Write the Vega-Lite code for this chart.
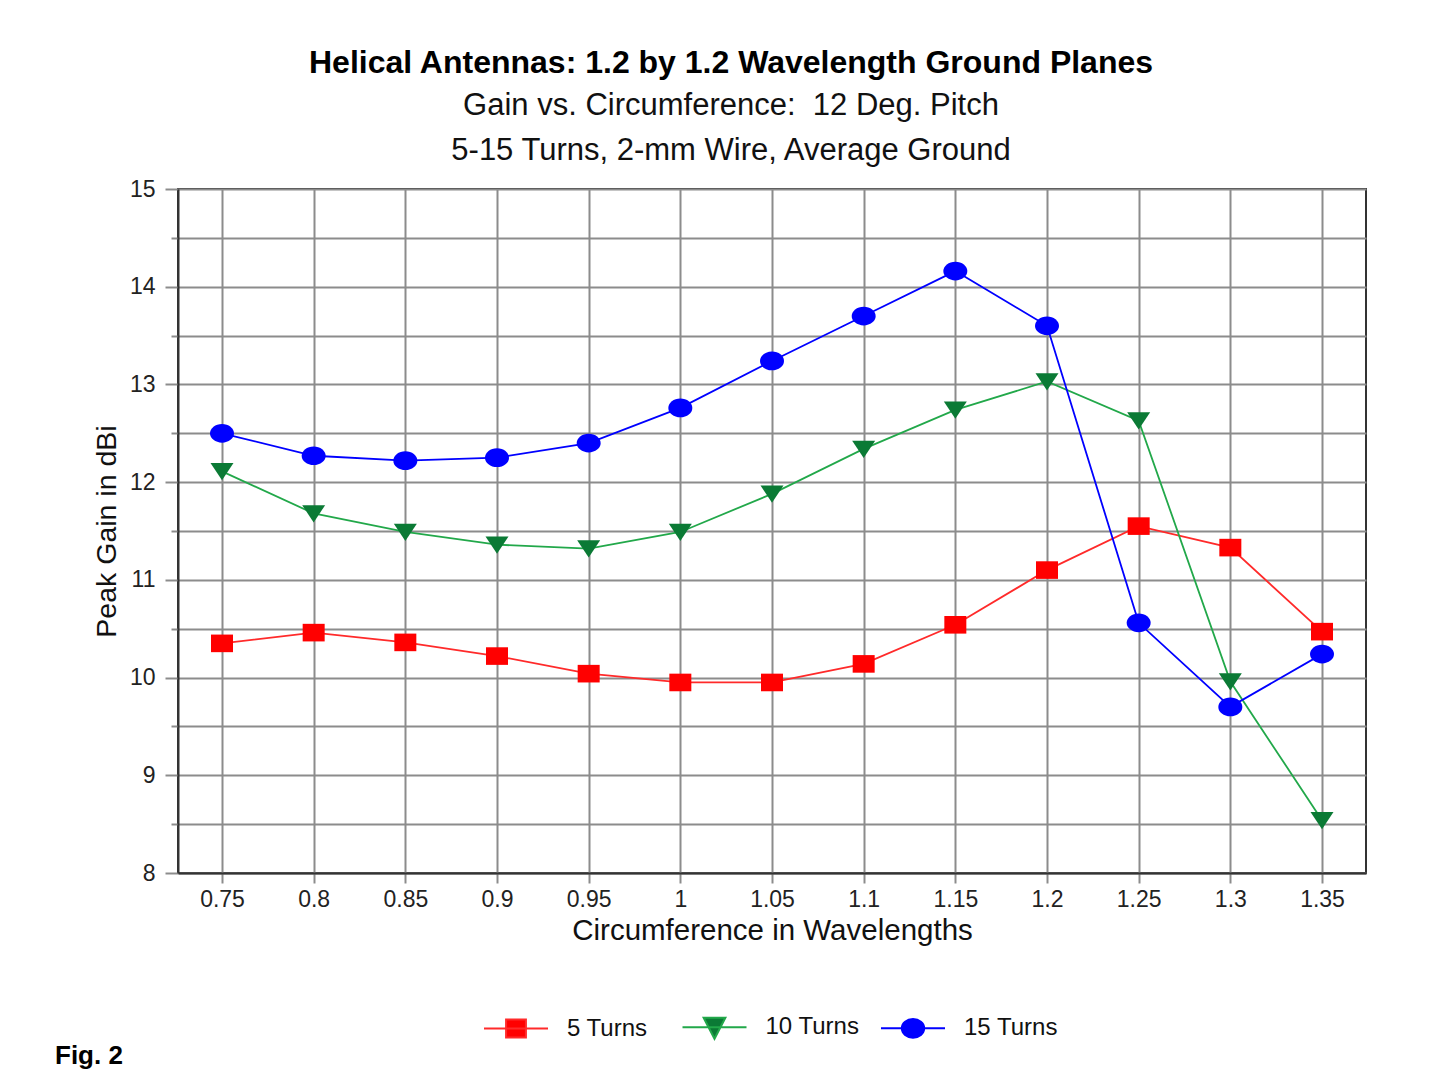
{
  "$schema": "https://vega.github.io/schema/vega-lite/v6.json",
  "width": 1188,
  "height": 684,
  "autosize": {"type": "none"},
  "padding": {"left": 178, "top": 189, "right": 64, "bottom": 214},
  "background": "white",
  "title": {
    "text": "Helical Antennas: 1.2 by 1.2 Wavelength Ground Planes",
    "subtitle": ["Gain vs. Circumference:\u00a0\u00a012 Deg. Pitch", "5-15 Turns, 2-mm Wire, Average Ground"],
    "anchor": "middle",
    "frame": "group",
    "dx": -41,
    "font": "Liberation Sans",
    "fontSize": 32,
    "fontWeight": "bold",
    "color": "#000000",
    "subtitleFont": "Liberation Sans",
    "subtitleFontSize": 31,
    "subtitleColor": "#111111",
    "subtitleLineHeight": 45,
    "subtitlePadding": 11,
    "offset": 11
  },
  "data": {
    "values": [
      {"c": 0.75, "gain": 10.35, "series": "5 Turns"},
      {"c": 0.8, "gain": 10.46, "series": "5 Turns"},
      {"c": 0.85, "gain": 10.36, "series": "5 Turns"},
      {"c": 0.9, "gain": 10.22, "series": "5 Turns"},
      {"c": 0.95, "gain": 10.04, "series": "5 Turns"},
      {"c": 1.0, "gain": 9.95, "series": "5 Turns"},
      {"c": 1.05, "gain": 9.95, "series": "5 Turns"},
      {"c": 1.1, "gain": 10.14, "series": "5 Turns"},
      {"c": 1.15, "gain": 10.54, "series": "5 Turns"},
      {"c": 1.2, "gain": 11.10, "series": "5 Turns"},
      {"c": 1.25, "gain": 11.55, "series": "5 Turns"},
      {"c": 1.3, "gain": 11.33, "series": "5 Turns"},
      {"c": 1.35, "gain": 10.47, "series": "5 Turns"},
      {"c": 0.75, "gain": 12.11, "series": "10 Turns"},
      {"c": 0.8, "gain": 11.68, "series": "10 Turns"},
      {"c": 0.85, "gain": 11.49, "series": "10 Turns"},
      {"c": 0.9, "gain": 11.36, "series": "10 Turns"},
      {"c": 0.95, "gain": 11.32, "series": "10 Turns"},
      {"c": 1.0, "gain": 11.49, "series": "10 Turns"},
      {"c": 1.05, "gain": 11.88, "series": "10 Turns"},
      {"c": 1.1, "gain": 12.34, "series": "10 Turns"},
      {"c": 1.15, "gain": 12.74, "series": "10 Turns"},
      {"c": 1.2, "gain": 13.03, "series": "10 Turns"},
      {"c": 1.25, "gain": 12.63, "series": "10 Turns"},
      {"c": 1.3, "gain": 9.96, "series": "10 Turns"},
      {"c": 1.35, "gain": 8.54, "series": "10 Turns"},
      {"c": 0.75, "gain": 12.50, "series": "15 Turns"},
      {"c": 0.8, "gain": 12.27, "series": "15 Turns"},
      {"c": 0.85, "gain": 12.22, "series": "15 Turns"},
      {"c": 0.9, "gain": 12.25, "series": "15 Turns"},
      {"c": 0.95, "gain": 12.40, "series": "15 Turns"},
      {"c": 1.0, "gain": 12.76, "series": "15 Turns"},
      {"c": 1.05, "gain": 13.24, "series": "15 Turns"},
      {"c": 1.1, "gain": 13.70, "series": "15 Turns"},
      {"c": 1.15, "gain": 14.16, "series": "15 Turns"},
      {"c": 1.2, "gain": 13.60, "series": "15 Turns"},
      {"c": 1.25, "gain": 10.56, "series": "15 Turns"},
      {"c": 1.3, "gain": 9.70, "series": "15 Turns"},
      {"c": 1.35, "gain": 10.24, "series": "15 Turns"}
    ]
  },
  "encoding": {
    "x": {
      "field": "c",
      "type": "quantitative",
      "scale": {"domain": [0.726, 1.374], "nice": false, "zero": false},
      "axis": {
        "values": [0.75, 0.8, 0.85, 0.9, 0.95, 1, 1.05, 1.1, 1.15, 1.2, 1.25, 1.3, 1.35],
        "format": "~g",
        "title": "Circumference in Wavelengths",
        "titleFontSize": 29.5,
        "grid": true,
        "tickSize": 10,
        "labelPadding": 5,
        "titlePadding": 5
      }
    },
    "y": {
      "field": "gain",
      "type": "quantitative",
      "scale": {"domain": [8, 15], "nice": false, "zero": false},
      "axis": {
        "values": [8, 8.5, 9, 9.5, 10, 10.5, 11, 11.5, 12, 12.5, 13, 13.5, 14, 14.5, 15],
        "labelExpr": "datum.value % 1 === 0 ? format(datum.value, 'd') : ''",
        "tickSize": {"condition": {"test": "datum.value % 1 === 0", "value": 13}, "value": 7},
        "labelPadding": 10,
        "title": "Peak Gain in dBi",
        "titleFontSize": 28.5,
        "titlePadding": 8,
        "grid": true
      }
    }
  },
  "layer": [
    {
      "transform": [{"filter": "false"}],
      "mark": {"type": "point", "filled": true, "strokeWidth": 2},
      "encoding": {
        "shape": {
          "field": "series",
          "type": "nominal",
          "scale": {
            "domain": ["5 Turns", "10 Turns", "15 Turns"],
            "range": [
              "M-1,0H1M-0.31,-0.28H0.31V0.28H-0.31Z",
              "M-1,0H1M-0.34,-0.3H0.34L0,0.36Z",
              "M-1,0H1M-0.35,0A0.35,0.29 0 1,0 0.35,0A0.35,0.29 0 1,0 -0.35,0Z"
            ]
          },
          "legend": {"title": "Fig. 2", "orient": "none", "legendX": -123, "legendY": 805, "direction": "horizontal"}
        },
        "fill": {
          "field": "series",
          "type": "nominal",
          "scale": {"domain": ["5 Turns", "10 Turns", "15 Turns"], "range": ["#ff0000", "#0b7a35", "#0000ff"]},
          "legend": {"title": "Fig. 2", "orient": "none", "legendX": -123, "legendY": 805, "direction": "horizontal"}
        },
        "stroke": {
          "field": "series",
          "type": "nominal",
          "scale": {"domain": ["5 Turns", "10 Turns", "15 Turns"], "range": ["#ff2a2a", "#22a84a", "#0000ff"]},
          "legend": {"title": "Fig. 2", "orient": "none", "legendX": -123, "legendY": 805, "direction": "horizontal"}
        }
      }
    },
    {
      "mark": {"type": "line", "strokeWidth": 1.8},
      "encoding": {
        "stroke": {
          "field": "series",
          "type": "nominal",
          "legend": {"title": "Fig. 2", "orient": "none", "legendX": -123, "legendY": 805, "direction": "horizontal"}
        }
      }
    },
    {
      "transform": [{"filter": "datum.series === '5 Turns'"}],
      "mark": {"type": "point", "filled": true, "shape": "M-1,-0.8H1V0.8H-1Z", "size": 484, "color": "#ff0000", "opacity": 1, "strokeWidth": 0}
    },
    {
      "transform": [{"filter": "datum.series === '10 Turns'"}],
      "mark": {"type": "point", "filled": true, "shape": "M-1,-0.72H1L0,0.78Z", "size": 529, "color": "#0b7a35", "opacity": 1, "strokeWidth": 0}
    },
    {
      "transform": [{"filter": "datum.series === '15 Turns'"}],
      "mark": {"type": "point", "filled": true, "shape": "M-1,0A1,0.78 0 1,0 1,0A1,0.78 0 1,0 -1,0Z", "size": 576, "color": "#0000ff", "opacity": 1, "strokeWidth": 0}
    }
  ],
  "config": {
    "view": {"stroke": "#333333", "strokeWidth": 2},
    "axis": {
      "gridColor": "#8c8c8c",
      "gridWidth": 2,
      "gridOpacity": 1,
      "domainColor": "#333333",
      "domainWidth": 2,
      "tickColor": "#8c8c8c",
      "tickWidth": 2,
      "labelFont": "Liberation Sans",
      "labelFontSize": 23,
      "labelColor": "#222222",
      "titleFont": "Liberation Sans",
      "titleFontSize": 28,
      "titleFontWeight": "normal",
      "titleColor": "#111111"
    },
    "legend": {
      "titleOrient": "left",
      "titleAnchor": "end",
      "titleBaseline": "top",
      "titleFont": "Liberation Sans",
      "titleFontSize": 26,
      "titleFontWeight": "bold",
      "titleColor": "#000000",
      "titlePadding": 360,
      "titleLimit": 300,
      "symbolSize": 4096,
      "symbolStrokeWidth": 2,
      "symbolOpacity": 1,
      "labelFont": "Liberation Sans",
      "labelFontSize": 24,
      "labelColor": "#111111",
      "labelOffset": 18,
      "columnPadding": 17.5,
      "gridAlign": "all",
      "padding": 0
    }
  }
}
